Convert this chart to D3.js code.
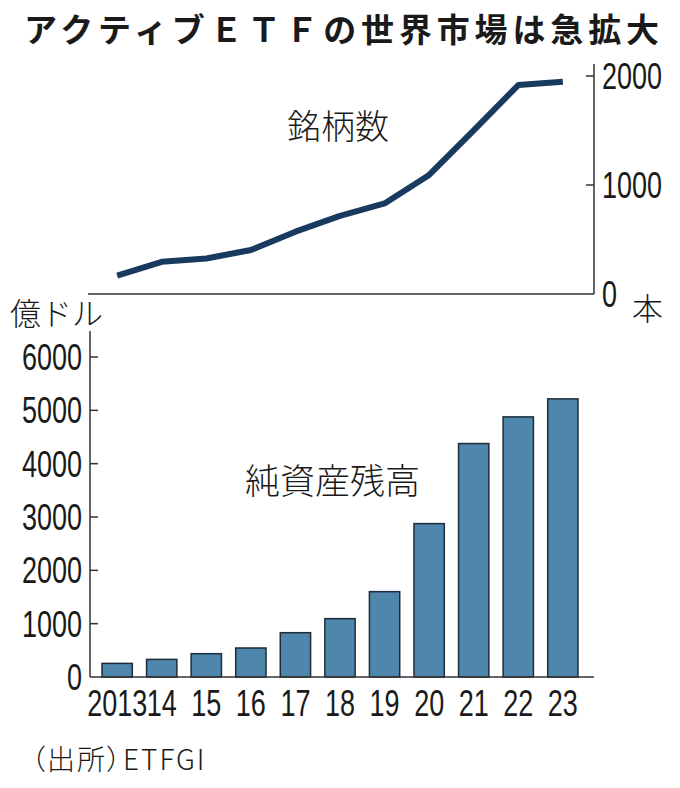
<!DOCTYPE html>
<html lang="ja">
<head>
  <meta charset="UTF-8">
  <title>アクティブETFの世界市場は急拡大</title>
  <style>
    body { margin: 0; background: #fff; }
    svg text { font-family: "Noto Sans CJK JP", sans-serif; fill: #1a1a1a; font-weight: 300; }
    .num { font-family: "Liberation Sans", Arial, sans-serif; font-weight: 400; }
    .src { font-feature-settings: "palt"; letter-spacing: 2px; }
  </style>
</head>
<body>
<div id="chart"></div>
<script src="https://cdn.jsdelivr.net/npm/d3@7"></script>
<script>

const years = ["2013", "14", "15", "16", "17", "18", "19", "20", "21", "22", "23"];
// 銘柄数（本）
const fundCount = [169, 295, 326, 403, 572, 717, 831, 1092, 1502, 1917, 1948];
// 純資産残高（億ドル）
const netAssets = [255, 330, 437, 544, 831, 1094, 1600, 2876, 4377, 4877, 5215];
const countTicks = [0, 1000, 2000];
const assetTicks = [0, 1000, 2000, 3000, 4000, 5000, 6000];

const width = 680, height = 788;
const numSize = 36;
const squeeze = 0.75; // narrow figures in the original

const svg = d3.select("#chart").append("svg")
  .attr("width", width)
  .attr("height", height);

// shared x scale for both panels
const x = d3.scaleBand()
  .domain(years)
  .range([102, 578])
  .paddingInner(0.32)
  .paddingOuter(0);
const cx = d => x(d) + x.bandwidth() / 2;

// narrow numeric labels: squeeze horizontally around the anchor point
function numText(sel, px, py, anchor) {
  sel.attr("class", "num")
    .attr("font-size", numSize)
    .attr("text-anchor", anchor)
    .attr("transform", (d, i) => `translate(${px(d, i)},${py(d, i)}) scale(${squeeze},1)`)
    .text(d => d);
}

// title
svg.append("text")
  .attr("x", 24)
  .attr("y", 42)
  .attr("font-size", 33)
  .style("font-weight", 700)
  .attr("textLength", 635)
  .attr("lengthAdjust", "spacing")
  .text("アクティブＥＴＦの世界市場は急拡大");

// ---- top panel: 銘柄数 line ----
const yTop = d3.scaleLinear().domain([0, 2000]).range([294, 76]);

svg.append("line")
  .attr("x1", 88).attr("x2", 594)
  .attr("y1", yTop(0)).attr("y2", yTop(0))
  .attr("stroke", "#333").attr("stroke-width", 1.5);

svg.append("line")
  .attr("x1", 594).attr("x2", 594)
  .attr("y1", 64).attr("y2", yTop(0))
  .attr("stroke", "#333").attr("stroke-width", 1.5);

svg.selectAll(".top-tick")
  .data(countTicks.filter(d => d > 0))
  .enter().append("line")
  .attr("x1", 586).attr("x2", 594)
  .attr("y1", d => yTop(d)).attr("y2", d => yTop(d))
  .attr("stroke", "#333").attr("stroke-width", 1.5);

svg.selectAll(".top-label")
  .data(countTicks)
  .enter().append("text")
  .call(numText, () => 602, d => yTop(d) + 13, "start");

svg.append("text")
  .attr("x", 632).attr("y", 320)
  .attr("font-size", 31)
  .text("本");

const line = d3.line()
  .x((d, i) => cx(years[i]))
  .y(d => yTop(d));

svg.append("path")
  .datum(fundCount)
  .attr("d", line)
  .attr("fill", "none")
  .attr("stroke", "#173a5e")
  .attr("stroke-width", 6)
  .attr("stroke-linejoin", "round");

svg.append("text")
  .attr("x", 338).attr("y", 139)
  .attr("text-anchor", "middle")
  .attr("font-size", 34)
  .text("銘柄数");

// ---- bottom panel: 純資産残高 bars ----
const yBot = d3.scaleLinear().domain([0, 6000]).range([677, 357]);

svg.append("text")
  .attr("x", 10).attr("y", 325)
  .attr("font-size", 31)
  .text("億ドル");

svg.selectAll(".bar")
  .data(netAssets)
  .enter().append("rect")
  .attr("x", (d, i) => x(years[i]))
  .attr("y", d => yBot(d))
  .attr("width", x.bandwidth())
  .attr("height", d => yBot(0) - yBot(d))
  .attr("fill", "#4f86ab")
  .attr("stroke", "#1d2b3a")
  .attr("stroke-width", 1.5);

svg.append("line")
  .attr("x1", 90).attr("x2", 90)
  .attr("y1", 331).attr("y2", yBot(0))
  .attr("stroke", "#333").attr("stroke-width", 1.5);

svg.append("line")
  .attr("x1", 90).attr("x2", 594)
  .attr("y1", yBot(0)).attr("y2", yBot(0))
  .attr("stroke", "#333").attr("stroke-width", 1.5);

svg.selectAll(".bot-tick")
  .data(assetTicks.filter(d => d > 0))
  .enter().append("line")
  .attr("x1", 90).attr("x2", 98)
  .attr("y1", d => yBot(d)).attr("y2", d => yBot(d))
  .attr("stroke", "#333").attr("stroke-width", 1.5);

svg.selectAll(".bot-label")
  .data(assetTicks)
  .enter().append("text")
  .call(numText, () => 82, d => yBot(d) + 13, "end");

svg.selectAll(".year")
  .data(years)
  .enter().append("text")
  .call(numText, d => cx(d), () => 716, "middle");

svg.append("text")
  .attr("class", "src")
  .attr("x", 31).attr("y", 770)
  .attr("font-size", 28)
  .text("（出所）ETFGI");

svg.append("text")
  .attr("x", 245).attr("y", 494)
  .attr("font-size", 35)
  .text("純資産残高");

</script>
</body>
</html>
